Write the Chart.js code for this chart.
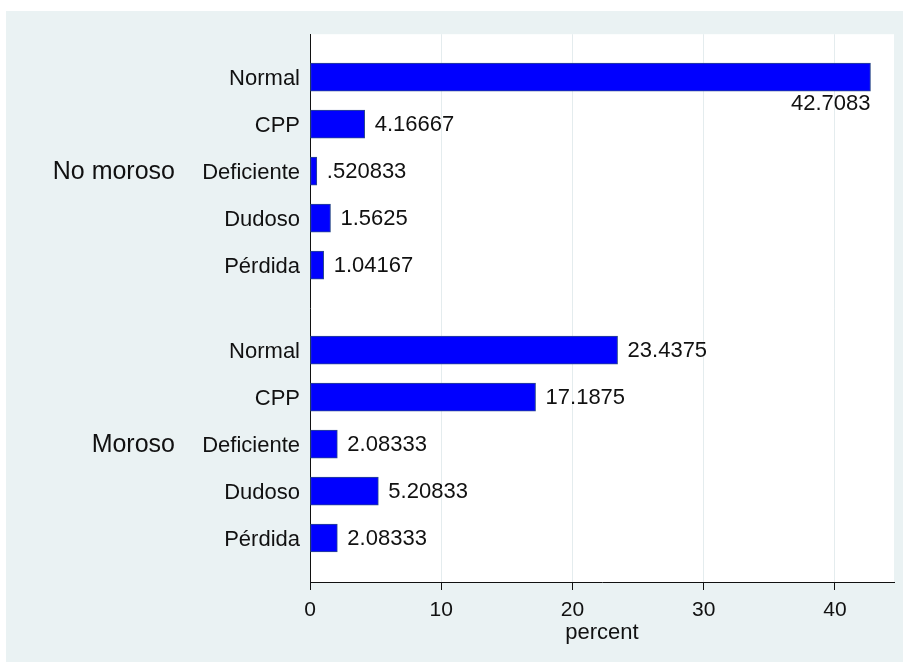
<!DOCTYPE html>
<html>
<head>
<meta charset="utf-8">
<script src="https://cdn.jsdelivr.net/npm/chart.js@4.4.0/dist/chart.umd.min.js"></script>
<style>
  html, body { margin: 0; padding: 0; background: #ffffff; }
  .wrap { position: absolute; left: 6px; top: 11px; width: 897px; height: 651px; background: #EAF2F3; }
</style>
</head>
<body>
<div class="wrap"><canvas id="chart" width="897" height="651"></canvas></div>
<script>
// data
const groups = ['No moroso', 'Moroso'];
const categories = ['Normal', 'CPP', 'Deficiente', 'Dudoso', 'Pérdida'];
const noMoroso = [42.7083, 4.16667, 0.520833, 1.5625, 1.04167];
const moroso = [23.4375, 17.1875, 2.08333, 5.20833, 2.08333];
const xTicks = [0, 10, 20, 30, 40];

const seriesByGroup = [noMoroso, moroso];
const GROUP_STEP = 5.81; // slot offset of second group (gap between groups)

const points = [];
const slotLabels = [];
seriesByGroup.forEach((vals, g) => {
  vals.forEach((v, i) => {
    const pos = g * GROUP_STEP + i;
    points.push({ x: v, y: pos });
    slotLabels.push({ pos: pos, text: categories[i] });
  });
});

const FONT = 'Arial, "Liberation Sans", Helvetica, sans-serif';
const fmt = v => String(v).replace(/^0\./, '.');

const plotBg = {
  id: 'plotBg',
  beforeDraw(chart) {
    const { ctx, chartArea: a } = chart;
    ctx.save();
    ctx.fillStyle = '#ffffff';
    ctx.fillRect(a.left, a.top, a.right - a.left, a.bottom - a.top);
    ctx.restore();
  }
};

const barLabels = {
  id: 'barLabels',
  afterDatasetsDraw(chart) {
    const { ctx, chartArea: a } = chart;
    const meta = chart.getDatasetMeta(0);
    ctx.save();
    ctx.font = '22px ' + FONT;
    ctx.fillStyle = '#111111';
    meta.data.forEach((bar, i) => {
      const txt = fmt(points[i].x);
      const w = ctx.measureText(txt).width;
      if (bar.x + 10 + w > a.right) {
        ctx.textAlign = 'right';
        ctx.textBaseline = 'top';
        ctx.fillText(txt, bar.x, bar.y + bar.height / 2 + 2);
      } else {
        ctx.textAlign = 'left';
        ctx.textBaseline = 'middle';
        ctx.fillText(txt, bar.x + 10, bar.y + 1);
      }
    });
    // group labels
    const ys = chart.scales.y;
    ctx.font = '25px ' + FONT;
    ctx.textAlign = 'right';
    ctx.textBaseline = 'middle';
    groups.forEach((name, g) => {
      const mid = g * GROUP_STEP + (categories.length - 1) / 2;
      ctx.fillText(name, 169, ys.getPixelForValue(mid) + 1);
    });
    ctx.restore();
  }
};

new Chart(document.getElementById('chart').getContext('2d'), {
  type: 'bar',
  data: {
    datasets: [{
      data: points,
      backgroundColor: '#0000FF',
      borderColor: '#2c4a8c',
      borderWidth: 1,
      borderSkipped: false,
      barThickness: 28
    }]
  },
  options: {
    indexAxis: 'y',
    responsive: false,
    animation: false,
    layout: { padding: { top: 23, right: 9, left: 0, bottom: 0 } },
    plugins: { legend: { display: false }, tooltip: { enabled: false } },
    scales: {
      x: {
        type: 'linear',
        min: 0,
        max: 44.5,
        afterBuildTicks: s => { s.ticks = xTicks.map(v => ({ value: v })); },
        afterFit: s => { s.height = 80; },
        grid: { color: '#E4ECEE', tickColor: '#111111', tickLength: 8, lineWidth: 1 },
        border: { display: true, color: '#111111', width: 1 },
        ticks: { color: '#111111', font: { family: FONT, size: 21 }, padding: 8, maxRotation: 0 },
        title: { display: true, text: 'percent', color: '#111111', font: { family: FONT, size: 22 }, padding: { top: 0, bottom: 16 } }
      },
      y: {
        type: 'linear',
        reverse: true,
        offset: false,
        min: -0.915,
        max: 10.746,
        afterBuildTicks: s => { s.ticks = slotLabels.map(l => ({ value: l.pos })); },
        afterFit: s => { s.width = 304; },
        grid: { display: false, drawTicks: false },
        border: { display: true, color: '#111111', width: 1 },
        ticks: {
          color: '#111111',
          font: { family: FONT, size: 22 },
          padding: 10,
          labelOffset: 2,
          callback: (value, index) => slotLabels[index] ? slotLabels[index].text : ''
        }
      }
    }
  },
  plugins: [plotBg, barLabels]
});
</script>
</body>
</html>
